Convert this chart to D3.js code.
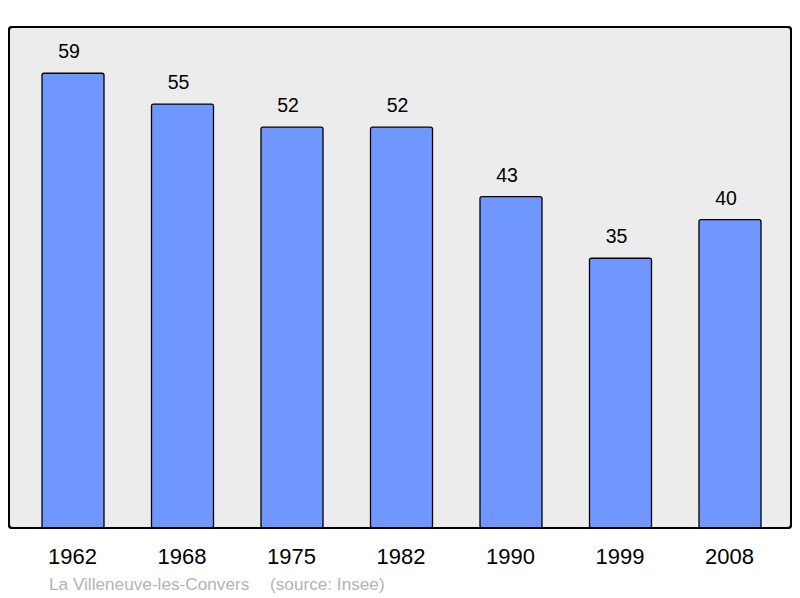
<!DOCTYPE html>
<html><head><meta charset="utf-8">
<script src="https://cdn.jsdelivr.net/npm/d3@7"></script>
<style>body{margin:0;background:#fff}svg{display:block}</style>
</head><body>
<svg id="c" width="800" height="598"></svg>
<script>
const years = ["1962","1968","1975","1982","1990","1999","2008"];
const population = [59,55,52,52,43,35,40];
const footerName = "La Villeneuve-les-Convers";
const footerSource = "(source: Insee)";

const svg = d3.select("#c");
const font = "'Liberation Sans', Arial, sans-serif";

svg.append("rect").attr("x",9).attr("y",27).attr("width",782).attr("height",501)
  .attr("rx",3).attr("fill","#ececec").attr("stroke","#000").attr("stroke-width",2);

const x = d3.scalePoint().domain(years).range([73,730]);
const y = d3.scaleLinear().domain([0,65]).range([528,27]);
const bw = 62;

const data = years.map((yr,i)=>({yr, v:population[i]}));

svg.selectAll("rect.bar").data(data).enter().append("rect").attr("class","bar")
  .attr("x",d=>x(d.yr)-bw/2).attr("y",d=>y(d.v))
  .attr("width",bw).attr("height",d=>y(0)-y(d.v))
  .attr("rx",2)
  .attr("fill","#7097ff").attr("stroke","#000").attr("stroke-width",1.3);

svg.selectAll("text.val").data(data).enter().append("text").attr("class","val")
  .attr("x",d=>x(d.yr)-4).attr("y",d=>y(d.v)-15)
  .attr("text-anchor","middle").attr("font-family",font).attr("font-size",19.5)
  .attr("fill","#000").text(d=>d.v);

svg.append("rect").attr("x",9).attr("y",27).attr("width",782).attr("height",501)
  .attr("rx",3).attr("fill","none").attr("stroke","#000").attr("stroke-width",2);

const xAxis = d3.axisBottom(x).tickSize(0).tickPadding(0);
const g = svg.append("g").attr("transform","translate(0,528)").call(xAxis);
g.select(".domain").remove();
g.selectAll("text").attr("font-family",font).attr("font-size",22).attr("fill","#000")
  .attr("dy",null).attr("y",36).attr("dx",-1);

svg.append("text").attr("x",49).attr("y",590).attr("font-family",font).attr("font-size",17.2)
  .attr("fill","#b3b3b3").text(footerName);
svg.append("text").attr("x",270).attr("y",590).attr("font-family",font).attr("font-size",17.2)
  .attr("fill","#b3b3b3").text(footerSource);
</script>
</body></html>
